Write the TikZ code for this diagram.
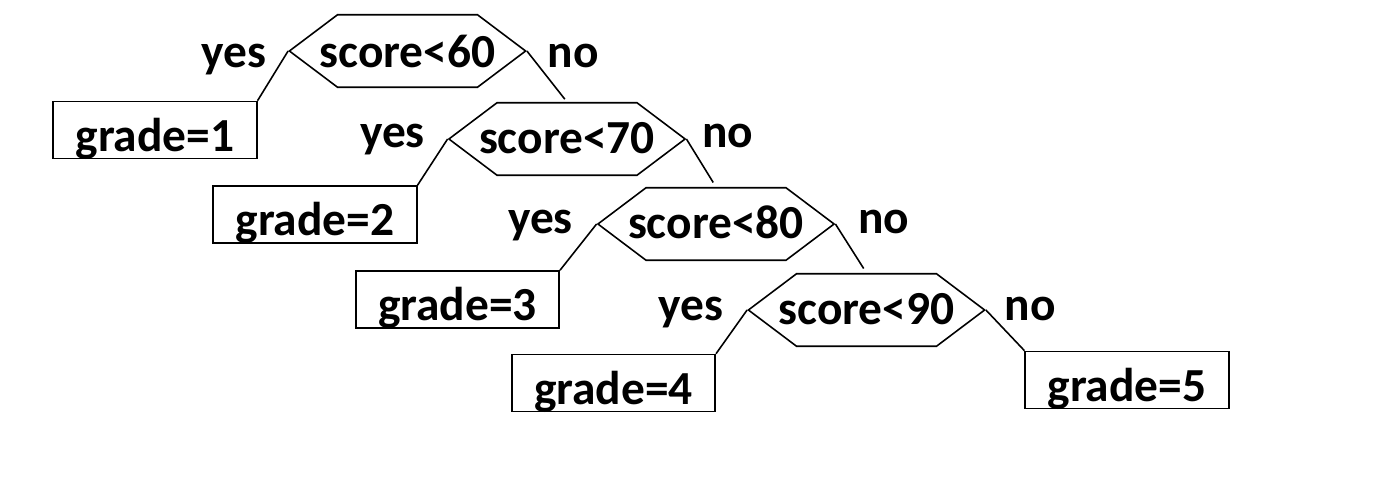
\documentclass[tikz,border=0pt]{standalone}
\usepackage{fontspec}
\setmainfont{Carlito}
\usetikzlibrary{shapes.symbols}
\tikzset{
 test/.style={draw,shape=signal,signal to=west and east,signal pointer angle=74,minimum height=1.45cm,inner xsep=-0.36cm,inner ysep=0pt,text height=16pt,text depth=0pt,font=\fontsize{27}{31}\selectfont\bfseries},
 leaf/.style={draw,rectangle,minimum width=4.07cm,minimum height=1.14cm,inner sep=0pt,text height=28pt,text depth=4pt,font=\fontsize{27}{31}\selectfont\bfseries},
 ans/.style={inner sep=0pt,font=\fontsize{27}{31}\selectfont\bfseries}
}
\begin{document}
\begin{tikzpicture}[x=0.02cm,y=-0.02cm,line width=0.9pt]
 \useasboundingbox (0,0) rectangle (1378,500);
 % tests
 \node[test,text height=19pt] (s60) at (407.5,51) {score<60};
 \node[test] (s70) at (567,139) {score<70};
 \node[test] (s80) at (716,224) {score<80};
 \node[test] (s90) at (866.5,310) {score<90};
 % leaves
 \node[leaf] (g1) at (155,130) {grade=1};
 \node[leaf] (g2) at (315,214.5) {grade=2};
 \node[leaf] (g3) at (457.5,299.5) {grade=3};
 \node[leaf] (g4) at (613.5,383) {grade=4};
 \node[leaf] (g5) at (1127,380) {grade=5};
 % yes / no
 \node[ans,anchor=base east] (y60) at ([shift={(-21,17)}]s60.west) {yes};
 \node[ans,anchor=base west] (n60) at ([shift={(20,17)}]s60.east) {no};
 \node[ans,anchor=base east] (y70) at ([shift={(-22,8)}]s70.west) {yes};
 \node[ans,anchor=base west] (n70) at ([shift={(15,8)}]s70.east) {no};
 \node[ans,anchor=base east] (y80) at ([shift={(-23,9)}]s80.west) {yes};
 \node[ans,anchor=base west] (n80) at ([shift={(22,9)}]s80.east) {no};
 \node[ans,anchor=base east] (y90) at ([shift={(-23,10)}]s90.west) {yes};
 \node[ans,anchor=base west] (n90) at ([shift={(18,10)}]s90.east) {no};
 % branches
 \draw (s60.west)--(g1.north east);
 \draw[shorten >=2pt] (s60.east)--(s70.north);
 \draw (s70.west)--(g2.north east);
 \draw[shorten >=3pt] (s70.east)--(s80.north);
 \draw (s80.west)--(g3.north east);
 \draw[shorten >=3pt] (s80.east)--(s90.north);
 \draw (s90.west)--(g4.north east);
 \draw (s90.east)--(g5.north west);
\end{tikzpicture}
\end{document}
